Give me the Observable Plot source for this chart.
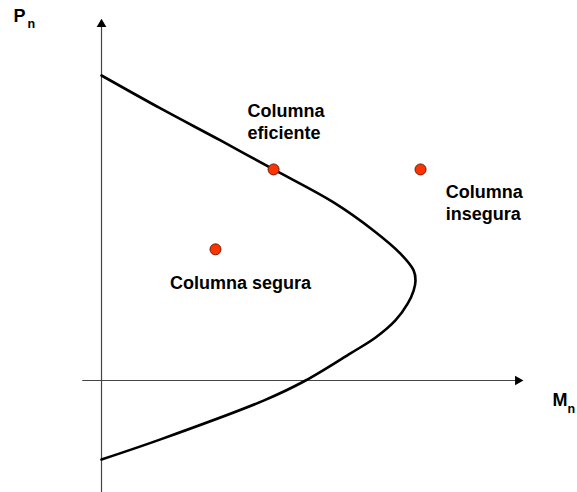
<!DOCTYPE html>
<html>
<head>
<meta charset="utf-8">
<script src="https://cdn.jsdelivr.net/npm/d3@7"></script>
<script src="https://cdn.jsdelivr.net/npm/@observablehq/plot@0.6"></script>
<style>
  html, body { margin: 0; padding: 0; background: #fff; }
</style>
</head>
<body>
<div id="chart"></div>
<script>
// Interaction curve (M = moment, P = axial load), normalized units
const curveM = [0, 0.188, 0.379, 0.548, 0.739, 0.866, 0.952, 0.994, 1.0, 0.994, 0.975, 0.936, 0.873, 0.793, 0.650, 0.516, 0.188, 0];
const curveP = [1.0, 0.892, 0.787, 0.692, 0.584, 0.492, 0.416, 0.361, 0.328, 0.295, 0.252, 0.197, 0.141, 0.089, 0, -0.066, -0.193, -0.259];

// Column states
const pointNames = ["eficiente", "insegura", "segura"];
const pointM = [0.548, 1.016, 0.363];
const pointP = [0.692, 0.692, 0.430];

// Labels
const labelTexts = ["Columna\neficiente", "Columna\ninsegura", "Columna segura"];
const labelM = [0.465, 1.096, 0.218];
const labelP = [0.914, 0.6485, 0.35];

// Axes extents
const axisMmin = -0.06, axisMmax = 1.338;
const axisPmin = -0.364, axisPmax = 1.18;

const curve = curveM.map((m, i) => ({M: m, P: curveP[i]}));
const points = pointNames.map((n, i) => ({name: n, M: pointM[i], P: pointP[i]}));
const labels = labelTexts.map((t, i) => ({text: t, M: labelM[i], P: labelP[i]}));

const font = "Liberation Sans, Arial, Helvetica, sans-serif";

const chart = Plot.plot({
  width: 577,
  height: 492,
  margin: 0,
  style: {background: "#fff", fontFamily: font},
  x: {domain: [-0.3217, 1.5159], axis: null},
  y: {domain: [-0.3672, 1.2459], axis: null},
  marks: [
    // axes lines
    Plot.line([{M: 0, P: axisPmin}, {M: 0, P: axisPmax - 0.02}], {x: "M", y: "P", stroke: "#444", strokeWidth: 1.2}),
    Plot.line([{M: axisMmin, P: 0}, {M: axisMmax - 0.02, P: 0}], {x: "M", y: "P", stroke: "#444", strokeWidth: 1.2}),
    // arrow heads
    Plot.dot([{M: 0, P: axisPmax - 0.012, r: 0}], {x: "M", y: "P", symbol: "triangle", r: 3.6, fill: "#000", stroke: "none", rotate: "r"}),
    Plot.dot([{M: axisMmax - 0.012, P: 0, r: 90}], {x: "M", y: "P", symbol: "triangle", r: 3.6, fill: "#000", stroke: "none", rotate: "r"}),
    // interaction curve
    Plot.line(curve, {x: "M", y: "P", curve: "catmull-rom", stroke: "#000", strokeWidth: 2.6}),
    // points
    Plot.dot(points, {x: "M", y: "P", r: 5.5, fill: "#ff3300", stroke: "#6b1a00", strokeWidth: 1}),
    // labels
    Plot.text(labels, {x: "M", y: "P", text: "text", textAnchor: "start", lineAnchor: "top", lineHeight: 1.22,
      fontSize: 18, fontWeight: "bold", fill: "#000", fontFamily: font}),
    // axis titles
    Plot.text([{t: "P", M: -0.280, P: 1.2157}, {t: "M", M: 1.436, P: -0.0433}], {x: "M", y: "P", text: "t", textAnchor: "start", lineAnchor: "top",
      fontSize: 18, fontWeight: "bold", fill: "#000", fontFamily: font}),
    Plot.text([{t: "n", M: -0.2357, P: 1.185}, {t: "n", M: 1.484, P: -0.077}], {x: "M", y: "P", text: "t", textAnchor: "start", lineAnchor: "top",
      fontSize: 12.5, fontWeight: "bold", fill: "#000", fontFamily: font})
  ]
});
document.getElementById("chart").appendChild(chart);
</script>
</body>
</html>
